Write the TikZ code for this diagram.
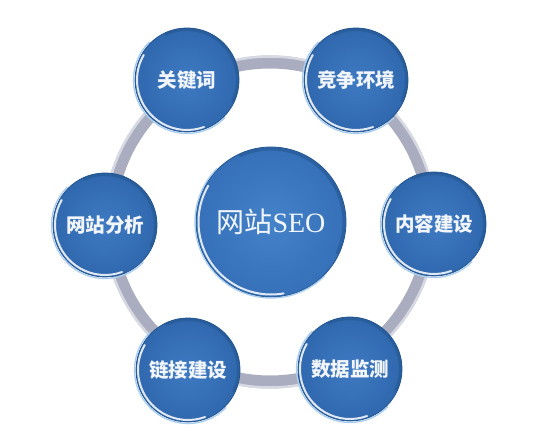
\documentclass[tikz,border=0pt]{standalone}
\usepackage{fontspec}
\newfontfamily\cjk{Noto Sans CJK SC}
\newfontfamily\seofont{Liberation Serif}
\usetikzlibrary{calc}
\definecolor{ringc}{HTML}{A9ADBF}
\definecolor{ringhi}{HTML}{D6D9E2}
\definecolor{bluein}{HTML}{3E7AC2}
\definecolor{blueout}{HTML}{3068AE}
\definecolor{rimc}{HTML}{24558F}
\definecolor{glow}{HTML}{A8CDEE}
\definecolor{txt}{HTML}{F2F6FB}
\definecolor{HubIn}{HTML}{4482CA}
\definecolor{HubOut}{HTML}{3570B8}
\tikzset{
  bubble/.style={circle, minimum size=104pt, inner sep=0pt, draw=rimc, line width=0.8pt,
    inner color=bluein, outer color=blueout, text=txt,
    font=\cjk\bfseries\fontsize{19.5}{21}\selectfont},
  hub/.style={circle, minimum size=150pt, inner sep=0pt, draw=rimc, line width=0.8pt,
    inner color=HubIn, outer color=HubOut, text=txt},
  ringline/.style={ringc, line width=13pt},
  ringshine/.style={ringhi, line width=2.5pt},
  shine/.style={white, line width=2pt, opacity=.85, line cap=round},
  halo/.style={glow, line width=1.3pt, line cap=round},
  shadowarc/.style={rimc, line width=3pt, opacity=.55, line cap=round}
}
\begin{document}
\begin{tikzpicture}[x=1pt,y=1pt]
\useasboundingbox (0,0) rectangle (535,434);
\fill[white] (0,0) rectangle (535,434);
\coordinate (o) at (270,212);
% ring
\draw[ringline] (o) circle (160);
\draw[ringshine] (o) circle (165.5);
% outer bubbles
\node[bubble] (kw) at (187,354) {关键词};
\node[bubble] (jz) at (356,354) {竞争环境};
\node[bubble] (nr) at (434,210) {内容建设};
\node[bubble] (sj) at (350,65) {数据监测};
\node[bubble] (lj) at (188,64) {链接建设};
\node[bubble] (fx) at (105,209) {网站分析};
% hub
\node[hub] (seo) at (271,212) {{\cjk\fontsize{28}{30}\selectfont 网站}{\seofont\fontsize{28}{30}\selectfont SEO}};
% highlights
\foreach \n in {kw,jz,nr,sj,lj,fx}{
  \draw[shadowarc] ($(\n.center)+(-25:50.5)$) arc (-25:115:50.5);
  \draw[halo] ($(\n.center)+(135:53.5)$) arc (135:315:53.5);
  \draw[shine] ($(\n.center)+(150:50)$) arc (150:290:50);
}
\draw[shadowarc] ($(seo.center)+(-25:73)$) arc (-25:115:73);
\draw[halo] ($(seo.center)+(135:76)$) arc (135:315:76);
\draw[shine] ($(seo.center)+(150:72.5)$) arc (150:280:72.5);
\end{tikzpicture}
\end{document}
